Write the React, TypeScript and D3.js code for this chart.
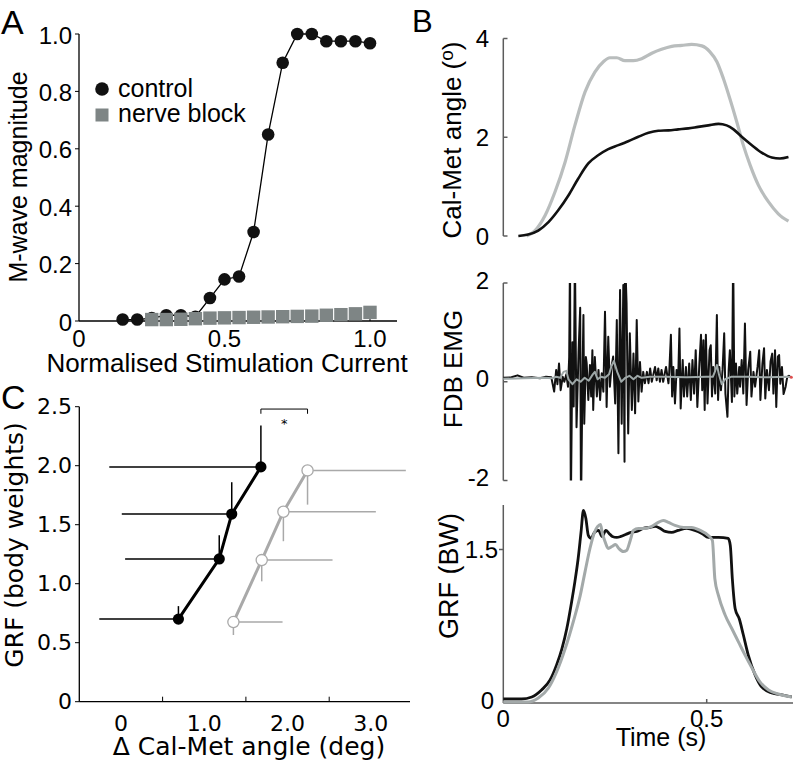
import React from 'react';
import * as d3 from 'd3';

// ---------- Panel A data ----------
const stimCurrent = [0.15, 0.2, 0.25, 0.3, 0.35, 0.4, 0.45, 0.5, 0.55, 0.6, 0.65, 0.7, 0.75, 0.8, 0.85, 0.9, 0.95, 1.0];
const controlMwave = [0.005, 0.005, 0.01, 0.02, 0.02, 0.015, 0.08, 0.145, 0.155, 0.31, 0.65, 0.9, 1.0, 1.0, 0.975, 0.975, 0.975, 0.968];
const blockCurrent = [0.25, 0.3, 0.35, 0.4, 0.45, 0.5, 0.55, 0.6, 0.65, 0.7, 0.75, 0.8, 0.85, 0.9, 0.95, 1.0];
const blockMwave = [0.005, 0.005, 0.006, 0.008, 0.01, 0.011, 0.012, 0.013, 0.014, 0.015, 0.016, 0.017, 0.02, 0.022, 0.025, 0.03];
const aYTicks = [0, 0.2, 0.4, 0.6, 0.8, 1.0];
const aYTickLabels = ['0', '0.2', '0.4', '0.6', '0.8', '1.0'];
const aXTicks = [0, 0.5, 1.0];
const aXTickLabels = ['0', '0.5', '1.0'];

// ---------- Panel B data ----------
const calMetControl: [number, number][] = [
  [0.037, 0], [0.061, 0.03], [0.086, 0.11], [0.111, 0.28], [0.135, 0.52], [0.16, 0.82], [0.184, 1.16],
  [0.209, 1.47], [0.234, 1.64], [0.258, 1.76], [0.283, 1.84], [0.307, 1.92], [0.332, 2.01], [0.357, 2.09],
  [0.381, 2.13], [0.406, 2.14], [0.43, 2.16], [0.455, 2.18], [0.479, 2.21], [0.504, 2.24], [0.529, 2.27],
  [0.549, 2.24], [0.566, 2.16], [0.586, 2.01], [0.611, 1.84], [0.635, 1.69], [0.66, 1.59], [0.68, 1.57], [0.701, 1.6],
];
const calMetBlock: [number, number][] = [
  [0.057, 0], [0.078, 0.11], [0.103, 0.42], [0.127, 0.89], [0.152, 1.5], [0.176, 2.24], [0.201, 2.92],
  [0.225, 3.32], [0.246, 3.53], [0.262, 3.61], [0.279, 3.61], [0.299, 3.55], [0.32, 3.55], [0.34, 3.59],
  [0.365, 3.7], [0.389, 3.78], [0.414, 3.84], [0.439, 3.86], [0.463, 3.88], [0.488, 3.85], [0.508, 3.73],
  [0.525, 3.53], [0.541, 3.19], [0.557, 2.78], [0.574, 2.31], [0.59, 1.84], [0.607, 1.43], [0.627, 1.03],
  [0.652, 0.69], [0.676, 0.45], [0.701, 0.3],
];
const emgControl: [number, number][] = [
  [0.0, 0.08], [0.02, 0.09], [0.035, 0.13], [0.05, 0.08], [0.07, 0.09], [0.09, 0.07], [0.105, 0.1], [0.118, 0.09],
  [0.125, -0.2], [0.13, 0.24], [0.133, -0.05], [0.137, 0.37], [0.141, -0.17], [0.146, 0.1], [0.15, 0.0],
  [0.155, 0.15], [0.159, -0.1], [0.162, 0.5], [0.164, 2.6], [0.166, -2.6], [0.17, 0.8], [0.173, -0.5],
  [0.176, 2.6], [0.18, -0.92], [0.185, 0.6], [0.189, 1.5], [0.191, -2.6], [0.195, 0.3], [0.197, 1.35],
  [0.199, -0.85], [0.203, 0.5], [0.205, 0.37], [0.209, -0.37], [0.213, 0.34], [0.216, -0.3], [0.219, 0.64],
  [0.221, -0.57], [0.225, 0.5], [0.23, -0.3], [0.234, 0.24], [0.238, -0.37], [0.242, 0.17], [0.246, -0.2],
  [0.25, 1.42], [0.254, -0.51], [0.258, 0.91], [0.262, -0.1], [0.266, 0.3], [0.27, 0.51], [0.275, -0.44],
  [0.279, 1.25], [0.283, -1.45], [0.287, 1.86], [0.291, -0.85], [0.295, 1.96], [0.298, -1.62], [0.299, 2.6],
  [0.303, 1.6], [0.307, -1.05], [0.311, 0.98], [0.316, -0.57], [0.32, 0.57], [0.324, -0.64], [0.328, 1.25],
  [0.332, -0.4], [0.336, 0.4], [0.34, -0.2], [0.344, 0.2], [0.348, -0.03], [0.353, 0.2], [0.357, -0.03],
  [0.361, 0.27], [0.365, 0.0], [0.369, 0.15], [0.373, 0.3], [0.377, 0.03], [0.381, 0.27], [0.385, 0.0],
  [0.389, 0.24], [0.393, 0.0], [0.4, 0.3], [0.406, -0.03], [0.408, 0.2], [0.412, 0.95], [0.415, -0.3],
  [0.418, 0.3], [0.422, -0.44], [0.426, 0.24], [0.43, 0.1], [0.433, 1.08], [0.436, -0.54], [0.441, 0.44],
  [0.444, -0.3], [0.449, 0.3], [0.452, -0.3], [0.457, 0.37], [0.461, -0.37], [0.465, 0.44], [0.469, -0.24],
  [0.473, 0.64], [0.477, -0.51], [0.482, 0.37], [0.486, 0.95], [0.489, -0.17], [0.492, 0.84], [0.495, -0.57],
  [0.498, 0.95], [0.502, -0.44], [0.507, 0.64], [0.51, 0.74], [0.513, -0.3], [0.516, 0.3], [0.521, -0.24],
  [0.525, 1.35], [0.528, -0.37], [0.531, 0.3], [0.535, -0.17], [0.539, 0.24], [0.543, 0.98], [0.546, -0.24],
  [0.551, -0.71], [0.554, 0.24], [0.557, 0.64], [0.562, -0.41], [0.565, 2.6], [0.568, -0.3], [0.572, 0.37],
  [0.575, -0.24], [0.58, 0.3], [0.582, -0.1], [0.586, 0.44], [0.59, -0.24], [0.594, 1.18], [0.598, -0.47],
  [0.602, 0.24], [0.607, 0.61], [0.61, -0.3], [0.615, 0.2], [0.619, -0.1], [0.625, 0.3], [0.629, 0.64],
  [0.632, -0.37], [0.637, 0.37], [0.641, 0.68], [0.644, -0.34], [0.648, 0.24], [0.653, -0.17], [0.657, 0.41],
  [0.661, 0.57], [0.664, -0.24], [0.668, 0.64], [0.671, -0.51], [0.675, 0.51], [0.678, 0.54], [0.681, -0.04],
  [0.685, 0.3], [0.689, -0.25], [0.694, -0.1], [0.698, 0.1], [0.702, 0.12], [0.706, 0.09],
];
const emgBlock: [number, number][] = [
  [0.0, 0.06], [0.05, 0.07], [0.1, 0.08], [0.12, 0.07], [0.13, 0.1], [0.14, 0.08], [0.148, 0.2], [0.155, 0.22],
  [0.16, 0.05], [0.17, -0.05], [0.18, 0.05], [0.19, 0.0], [0.2, 0.08], [0.21, 0.02], [0.22, 0.15], [0.225, 0.2],
  [0.232, 0.05], [0.24, 0.1], [0.25, 0.08], [0.26, 0.15], [0.266, 0.32], [0.272, 0.42], [0.28, 0.2], [0.29, 0.0],
  [0.3, 0.08], [0.31, 0.12], [0.32, 0.05], [0.33, 0.12], [0.34, 0.08], [0.36, 0.1], [0.4, 0.1], [0.45, 0.09],
  [0.5, 0.1], [0.515, 0.1], [0.52, 0.2], [0.525, 0.34], [0.53, 0.15], [0.537, -0.05], [0.545, 0.05], [0.56, 0.1],
  [0.6, 0.1], [0.65, 0.09], [0.7, 0.1], [0.706, 0.09],
];
const grfControl: [number, number][] = [
  [0, 0.01], [0.045, 0.01], [0.07, 0.03], [0.094, 0.1], [0.115, 0.2], [0.131, 0.35], [0.144, 0.51], [0.156, 0.71],
  [0.168, 0.98], [0.176, 1.18], [0.184, 1.41], [0.191, 1.67], [0.197, 1.89], [0.203, 1.81], [0.209, 1.64],
  [0.216, 1.61], [0.224, 1.67], [0.234, 1.69], [0.243, 1.63], [0.252, 1.69], [0.26, 1.66], [0.268, 1.63],
  [0.279, 1.62], [0.289, 1.63], [0.301, 1.65], [0.314, 1.67], [0.328, 1.68], [0.344, 1.71], [0.361, 1.72],
  [0.373, 1.73], [0.386, 1.71], [0.398, 1.68], [0.414, 1.67], [0.43, 1.69], [0.451, 1.71], [0.471, 1.69],
  [0.488, 1.66], [0.504, 1.62], [0.529, 1.62], [0.553, 1.61], [0.558, 1.54], [0.563, 1.21], [0.57, 0.91],
  [0.58, 0.81], [0.59, 0.65], [0.602, 0.45], [0.619, 0.25], [0.635, 0.13], [0.66, 0.07], [0.685, 0.05], [0.709, 0.03],
];
const grfBlockTrace: [number, number][] = [
  [0, -0.02], [0.061, -0.02], [0.086, 0.02], [0.111, 0.12], [0.131, 0.28], [0.152, 0.51], [0.172, 0.78],
  [0.189, 1.04], [0.201, 1.28], [0.213, 1.51], [0.224, 1.67], [0.232, 1.73], [0.239, 1.75], [0.243, 1.67],
  [0.25, 1.58], [0.258, 1.51], [0.267, 1.53], [0.276, 1.55], [0.284, 1.51], [0.295, 1.48], [0.303, 1.49],
  [0.312, 1.59], [0.32, 1.69], [0.332, 1.71], [0.348, 1.71], [0.365, 1.73], [0.381, 1.77], [0.393, 1.79],
  [0.406, 1.77], [0.422, 1.74], [0.443, 1.72], [0.463, 1.72], [0.484, 1.69], [0.504, 1.64], [0.514, 1.59],
  [0.52, 1.21], [0.529, 1.04], [0.545, 0.85], [0.562, 0.71], [0.578, 0.58], [0.594, 0.45], [0.611, 0.32],
  [0.631, 0.18], [0.652, 0.1], [0.676, 0.06], [0.709, 0.03],
];
const bTimeTicks = [0, 0.5];
const bTimeTickLabels = ['0', '0.5'];

// ---------- Panel C data ----------
const cControlAngle = [0.69, 1.18, 1.33, 1.68];
const cControlGrf = [0.7, 1.21, 1.59, 1.99];
const cControlErrAngle = [0.95, 1.13, 1.32, 1.82];
const cControlErrGrf = [0.11, 0.2, 0.27, 0.35];
const cBlockAngle = [1.35, 1.69, 1.95, 2.24];
const cBlockGrf = [0.675, 1.2, 1.61, 1.96];
const cBlockErrAngle = [0.59, 0.85, 1.11, 1.18];
const cBlockErrGrf = [0.11, 0.18, 0.25, 0.29];
const cYTicks = [0, 0.5, 1.0, 1.5, 2.0, 2.5];
const cYTickLabels = ['0', '0.5', '1.0', '1.5', '2.0', '2.5'];
const cXLabelTicks = [0, 1, 2, 3];
const cXLabelText = ['0', '1.0', '2.0', '3.0'];
const cXMinorTicks = [0.5, 1.5, 2.5];

const ARIAL = 'Liberation Sans, Arial, Helvetica, sans-serif';
const VERD = 'DejaVu Sans, Verdana, sans-serif';

export default function App() {
  // Panel A scales
  const xA = d3.scaleLinear().domain([0, 1]).range([79, 370]);
  const yA = d3.scaleLinear().domain([0, 1]).range([321, 34]);
  const lineA = d3.line<number>().x((_, i) => xA(stimCurrent[i])).y((d) => yA(d));

  // Panel B scales
  const xB = d3.scaleLinear().domain([0, 0.5]).range([503.3, 706.7]);
  const yB1 = d3.scaleLinear().domain([0, 4]).range([236, 38.5]);
  const yB2 = d3.scaleLinear().domain([-2, 2]).range([480.5, 283]);
  const yB3 = d3.scaleLinear().domain([0, 1.5]).range([700, 549.5]);
  const lineB1 = d3.line<[number, number]>().x((d) => xB(d[0])).y((d) => yB1(d[1])).curve(d3.curveMonotoneX);
  const lineB2 = d3.line<[number, number]>().x((d) => xB(d[0])).y((d) => yB2(d[1]));
  const lineB3 = d3.line<[number, number]>().x((d) => xB(d[0])).y((d) => yB3(d[1])).curve(d3.curveMonotoneX);

  // Panel C scales
  const xC = d3.scaleLinear().domain([-0.5, 3.5]).range([79.3, 412.5]);
  const yC = d3.scaleLinear().domain([0, 2.5]).range([701.7, 406.7]);
  const lineCc = d3.line<number>().x((d) => xC(d)).y((_, i) => yC(cControlGrf[i]));
  const lineCb = d3.line<number>().x((d) => xC(d)).y((_, i) => yC(cBlockGrf[i]));

  const axisGray = '#5c5c5c';

  return (
    <svg width={796} height={763} style={{ position: 'absolute', left: 0, top: 0, background: '#fff' }}>
      <defs>
        <clipPath id="emgClip">
          <rect x={500} y={yB2(2)} width={296} height={yB2(-2) - yB2(2)} />
        </clipPath>
      </defs>
      <rect x={0} y={0} width={796} height={763} fill="#fff" />

      {/* ================= Panel A ================= */}
      <g fontFamily={ARIAL}>
        <text x={1} y={34} fontSize={34}>A</text>
        <line x1={79} x2={79} y1={yA(1)} y2={yA(0)} stroke="#000" strokeWidth={1.3} />
        <line x1={79} x2={397} y1={yA(0)} y2={yA(0)} stroke="#000" strokeWidth={1.3} />
        {aYTicks.map((t, i) => (
          <g key={'ayt' + i}>
            <line x1={75} x2={79} y1={yA(t)} y2={yA(t)} stroke="#000" strokeWidth={1} />
            <text x={72} y={yA(t) + 1} fontSize={24} textAnchor="end" dominantBaseline="central">{aYTickLabels[i]}</text>
          </g>
        ))}
        {aXTicks.slice(1).map((t, i) => (
          <line key={'axk' + i} x1={xA(t)} x2={xA(t)} y1={yA(0)} y2={yA(0) - 5} stroke="#000" strokeWidth={1} />
        ))}
        {aXTicks.map((t, i) => (
          <text key={'axt' + i} x={xA(t)} y={347} fontSize={24} textAnchor="middle">{aXTickLabels[i]}</text>
        ))}
        <text x={227} y={372} fontSize={26} textAnchor="middle">Normalised Stimulation Current</text>
        <text transform="translate(27,177) rotate(-90)" fontSize={25} textAnchor="middle">M-wave magnitude</text>

        <path d={lineA(controlMwave) || ''} fill="none" stroke="#000" strokeWidth={1.3} />
        {controlMwave.map((v, i) => (
          <circle key={'cm' + i} cx={xA(stimCurrent[i])} cy={yA(v)} r={6.3} fill="#111" />
        ))}
        {blockMwave.map((v, i) => (
          <rect key={'bm' + i} x={xA(blockCurrent[i]) - 6.7} y={yA(v) - 6.7} width={13.4} height={13.4} fill="#7e8585" />
        ))}
        {/* legend */}
        <circle cx={102} cy={89} r={6.8} fill="#111" />
        <text x={118} y={97} fontSize={25}>control</text>
        <rect x={95.5} y={108.5} width={13} height={13} fill="#7e8585" />
        <text x={118} y={122} fontSize={25}>nerve block</text>
      </g>

      {/* ================= Panel B ================= */}
      <g fontFamily={ARIAL}>
        <text x={412} y={32} fontSize={31}>B</text>

        {/* top: Cal-Met angle */}
        <line x1={503.3} x2={503.3} y1={yB1(4)} y2={yB1(0)} stroke={axisGray} strokeWidth={1.5} />
        {[0, 2, 4].map((t) => (
          <g key={'b1t' + t}>
            <line x1={503.3} x2={507.5} y1={yB1(t)} y2={yB1(t)} stroke={axisGray} strokeWidth={1.5} />
            <text x={489} y={yB1(t)} fontSize={24} textAnchor="end" dominantBaseline="central">{String(t)}</text>
          </g>
        ))}
        <text transform={`translate(461,140) rotate(-90)`} fontSize={26} textAnchor="middle">
          Cal-Met angle (<tspan fontSize={19} dy={-8}>o</tspan><tspan dy={8}>)</tspan>
        </text>
        <path d={lineB1(calMetBlock) || ''} fill="none" stroke="#b9bdbd" strokeWidth={3.2} />
        <path d={lineB1(calMetControl) || ''} fill="none" stroke="#111" strokeWidth={2.6} />

        {/* middle: FDB EMG */}
        <line x1={503.3} x2={503.3} y1={yB2(2)} y2={yB2(-2)} stroke={axisGray} strokeWidth={1.5} />
        {[-2, 0, 2].map((t) => (
          <g key={'b2t' + t}>
            <line x1={503.3} x2={507.5} y1={yB2(t)} y2={yB2(t)} stroke={axisGray} strokeWidth={1.5} />
            <text x={489} y={yB2(t) - 3} fontSize={24} textAnchor="end" dominantBaseline="central">{String(t)}</text>
          </g>
        ))}
        <text transform={`translate(462,369) rotate(-90)`} fontSize={26} textAnchor="middle">FDB EMG</text>
        <g clipPath="url(#emgClip)">
          <path d={lineB2(emgControl) || ''} fill="none" stroke="#111" strokeWidth={2} strokeLinejoin="round" />
          <path d={lineB2(emgBlock) || ''} fill="none" stroke="#9ea8a8" strokeWidth={2} strokeLinejoin="round" />
        </g>
        <circle cx={xB(0.708)} cy={yB2(0.09)} r={1.5} fill="#e05050" />

        {/* bottom: GRF */}
        <line x1={503.3} x2={503.3} y1={505} y2={703} stroke={axisGray} strokeWidth={1.5} />
        <line x1={503.3} x2={793} y1={703} y2={703} stroke={axisGray} strokeWidth={1.5} />
        <line x1={499} x2={503.3} y1={yB3(1.5)} y2={yB3(1.5)} stroke={axisGray} strokeWidth={1.5} />
        <line x1={xB(0.5)} x2={xB(0.5)} y1={703} y2={699} stroke={axisGray} strokeWidth={1.5} />
        <text x={498} y={yB3(1.5)} fontSize={24} textAnchor="end" dominantBaseline="central">1.5</text>
        <text x={494} y={yB3(0)} fontSize={24} textAnchor="end" dominantBaseline="central">0</text>
        {bTimeTicks.map((t, i) => (
          <text key={'bxt' + i} x={xB(t)} y={727} fontSize={24} textAnchor="middle">{bTimeTickLabels[i]}</text>
        ))}
        <text x={661} y={746} fontSize={25} textAnchor="middle">Time (s)</text>
        <text transform={`translate(458,576) rotate(-90)`} fontSize={27} textAnchor="middle">GRF (BW)</text>
        <path d={lineB3(grfControl) || ''} fill="none" stroke="#111" strokeWidth={2.8} />
        <path d={lineB3(grfBlockTrace) || ''} fill="none" stroke="#a3a9a9" strokeWidth={3} />
      </g>

      {/* ================= Panel C ================= */}
      <g>
        <text x={1} y={409} fontSize={34} fontFamily={ARIAL}>C</text>
        <g fontFamily={VERD}>
          <line x1={79.3} x2={79.3} y1={yC(2.5)} y2={yC(0)} stroke="#000" strokeWidth={1.3} />
          <line x1={79.3} x2={410} y1={yC(0)} y2={yC(0)} stroke="#000" strokeWidth={1.3} />
          {cYTicks.map((t, i) => (
            <g key={'cyt' + i}>
              <line x1={75} x2={79.3} y1={yC(t)} y2={yC(t)} stroke="#000" strokeWidth={1} />
              <text x={72} y={yC(t)} fontSize={22} textAnchor="end" dominantBaseline="central">{cYTickLabels[i]}</text>
            </g>
          ))}
          {cXMinorTicks.map((t, i) => (
            <line key={'cxm' + i} x1={xC(t)} x2={xC(t)} y1={yC(0)} y2={yC(0) - 5} stroke="#000" strokeWidth={1} />
          ))}
          {cXLabelTicks.map((t, i) => (
            <text key={'cxl' + i} x={xC(t)} y={731} fontSize={22} textAnchor="middle">{cXLabelText[i]}</text>
          ))}
          <text x={249} y={755} fontSize={25} textAnchor="middle">Δ Cal-Met angle (deg)</text>
          <text transform="translate(23,545) rotate(-90)" fontSize={25} textAnchor="middle">GRF (body weights)</text>

          {/* significance bracket */}
          <path d={`M${xC(1.68)},${yC(2.44)} V${yC(2.48)} H${xC(2.24)} V${yC(2.44)}`} fill="none" stroke="#000" strokeWidth={1} />
          <text x={(xC(1.68) + xC(2.24)) / 2} y={yC(2.32)} fontSize={13} textAnchor="middle" fill="#000">*</text>

          {/* nerve block (gray, open) */}
          {cBlockAngle.map((a, i) => (
            <g key={'cbe' + i} stroke="#a9a9a9" strokeWidth={1.5}>
              <line x1={xC(a)} x2={xC(a + cBlockErrAngle[i])} y1={yC(cBlockGrf[i])} y2={yC(cBlockGrf[i])} />
              <line x1={xC(a)} x2={xC(a)} y1={yC(cBlockGrf[i])} y2={yC(cBlockGrf[i] - cBlockErrGrf[i])} />
            </g>
          ))}
          <path d={lineCb(cBlockAngle) || ''} fill="none" stroke="#a9a9a9" strokeWidth={3} />
          {cBlockAngle.map((a, i) => (
            <circle key={'cbp' + i} cx={xC(a)} cy={yC(cBlockGrf[i])} r={5.6} fill="#fff" stroke="#a9a9a9" strokeWidth={1.3} />
          ))}

          {/* control (black, filled) */}
          {cControlAngle.map((a, i) => (
            <g key={'cce' + i} stroke="#000" strokeWidth={1.5}>
              <line x1={xC(a - cControlErrAngle[i])} x2={xC(a)} y1={yC(cControlGrf[i])} y2={yC(cControlGrf[i])} />
              <line x1={xC(a)} x2={xC(a)} y1={yC(cControlGrf[i])} y2={yC(cControlGrf[i] + cControlErrGrf[i])} />
            </g>
          ))}
          <path d={lineCc(cControlAngle) || ''} fill="none" stroke="#000" strokeWidth={3} />
          {cControlAngle.map((a, i) => (
            <circle key={'ccp' + i} cx={xC(a)} cy={yC(cControlGrf[i])} r={5.6} fill="#000" />
          ))}
        </g>
      </g>
    </svg>
  );
}
